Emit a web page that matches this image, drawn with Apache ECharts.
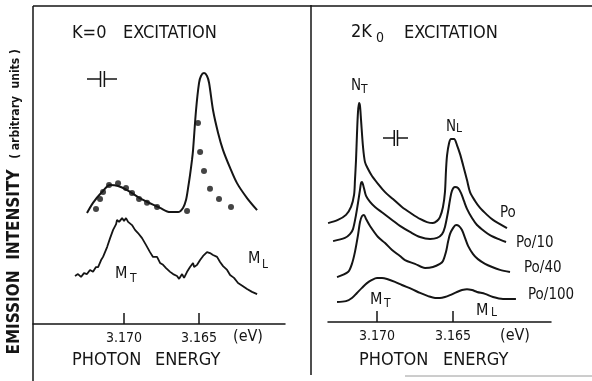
<!DOCTYPE html>
<html>
<head>
<meta charset="utf-8">
<script src="https://cdn.jsdelivr.net/npm/echarts@6/dist/echarts.min.js"></script>
<style>
  html, body { margin: 0; padding: 0; background: #fff; }
  #chart { width: 592px; height: 381px; }
</style>
</head>
<body>
<div id="chart"></div>
<script>
// tick positions shared by both panels (eV, axis runs high -> low)
const tickEnergies = [3.170, 3.165]

// K=0 excitation: smooth (calculated) curve
const fitEnergy = [3.17247, 3.17207, 3.17147, 3.17093, 3.17040, 3.16980, 3.16873, 3.16760, 3.16693, 3.16640,
  3.16607, 3.16587, 3.16573, 3.16560, 3.16547, 3.16540, 3.16520, 3.16500, 3.16487, 3.16467,
  3.16447, 3.16433, 3.16407, 3.16373, 3.16340, 3.16293, 3.16247, 3.16180, 3.16113]
const fitIntensity = [34.9, 38.1, 41.5, 43.7, 43.4, 42.1, 39.0, 36.5, 35.2, 35.2,
  36.5, 39.0, 42.8, 46.9, 51.6, 54.7, 67.3, 75.8, 78.0, 78.9,
  78.0, 75.8, 67.3, 60.1, 54.7, 49.1, 44.3, 39.6, 35.8]

// K=0 excitation: dots
const dotEnergy = [3.17187, 3.17160, 3.17140, 3.17100, 3.17040, 3.16987, 3.16947, 3.16900, 3.16847, 3.16780,
  3.16580, 3.16507, 3.16493, 3.16467, 3.16427, 3.16367, 3.16287]
const dotIntensity = [36.2, 39.3, 41.5, 43.7, 44.3, 42.8, 41.2, 39.3, 38.1, 36.8,
  35.5, 63.2, 54.1, 48.1, 42.5, 39.3, 36.8]

// K=0 excitation: measured (noisy) spectrum, M_T / M_L
const measEnergy = [3.17327, 3.17307, 3.17287, 3.17267, 3.17247, 3.17227, 3.17207, 3.17187, 3.17173, 3.17153,
  3.17140, 3.17113, 3.17093, 3.17073, 3.17053, 3.17047, 3.17033, 3.17013, 3.17000, 3.16987,
  3.16973, 3.16947, 3.16927, 3.16907, 3.16880, 3.16853, 3.16827, 3.16807, 3.16780, 3.16760,
  3.16740, 3.16720, 3.16693, 3.16673, 3.16647, 3.16633, 3.16613, 3.16600, 3.16580, 3.16560,
  3.16540, 3.16533, 3.16513, 3.16493, 3.16473, 3.16447, 3.16427, 3.16407, 3.16380, 3.16360,
  3.16340, 3.16313, 3.16293, 3.16267, 3.16240, 3.16207, 3.16180, 3.16147, 3.16113]
const measIntensity = [15.1, 15.7, 14.8, 16.0, 15.7, 17.0, 16.4, 17.9, 17.9, 20.1,
  21.1, 24.2, 27.0, 29.6, 31.4, 32.7, 32.1, 33.3, 32.4, 33.3,
  32.1, 31.1, 29.6, 28.6, 27.0, 24.8, 22.6, 21.1, 21.1, 19.2,
  18.6, 17.6, 16.4, 15.7, 15.1, 14.2, 15.7, 14.5, 16.4, 17.9,
  19.2, 17.9, 18.6, 20.1, 21.4, 22.6, 22.3, 21.7, 21.1, 19.5,
  18.2, 17.0, 15.4, 14.5, 12.9, 11.9, 11.0, 10.1, 9.4]

// 2K0 excitation, power Po
const p1Energy = [3.17322, 3.17257, 3.17204, 3.17171, 3.17151, 3.17145, 3.17138, 3.17132, 3.17125, 3.17118,
  3.17112, 3.17105, 3.17092, 3.17079, 3.17059, 3.17033, 3.16993, 3.16947, 3.16895, 3.16836,
  3.16770, 3.16717, 3.16671, 3.16632, 3.16605, 3.16586, 3.16566, 3.16553, 3.16546, 3.16539,
  3.16526, 3.16513, 3.16493, 3.16474, 3.16454, 3.16434, 3.16408, 3.16388, 3.16355, 3.16322,
  3.16276, 3.16237, 3.16191, 3.16145]
const p1Intensity = [31.3, 32.3, 33.9, 36.4, 40.2, 44.9, 51.3, 59.2, 66.5, 69.3,
  68.4, 63.9, 55.4, 50.6, 48.4, 46.2, 43.7, 41.1, 38.9, 36.4,
  34.2, 32.6, 31.6, 31.3, 32.0, 33.2, 36.4, 41.1, 48.1, 52.8,
  56.6, 57.9, 57.9, 56.0, 53.2, 49.7, 44.9, 41.1, 38.3, 36.1,
  33.9, 32.3, 31.0, 29.7]

// Po/10
const p10Energy = [3.17289, 3.17211, 3.17178, 3.17158, 3.17138, 3.17125, 3.17112, 3.17105, 3.17099, 3.17086,
  3.17072, 3.17046, 3.17013, 3.16961, 3.16901, 3.16849, 3.16783, 3.16717, 3.16651, 3.16605,
  3.16572, 3.16553, 3.16533, 3.16520, 3.16507, 3.16487, 3.16467, 3.16447, 3.16428, 3.16408,
  3.16375, 3.16342, 3.16296, 3.16257, 3.16204, 3.16151]
const p10Intensity = [25.6, 26.6, 27.8, 29.4, 33.9, 37.7, 41.8, 44.0, 44.3, 42.4,
  39.9, 38.0, 36.4, 34.5, 32.3, 30.4, 28.5, 26.9, 26.3, 26.6,
  27.8, 30.1, 34.8, 38.6, 41.5, 42.7, 42.4, 40.8, 38.3, 35.8,
  32.9, 30.7, 28.8, 27.5, 26.3, 25.3]

// Po/40
const p40Energy = [3.17263, 3.17191, 3.17165, 3.17145, 3.17125, 3.17112, 3.17099, 3.17086, 3.17072, 3.17046,
  3.16993, 3.16947, 3.16901, 3.16849, 3.16816, 3.16750, 3.16684, 3.16632, 3.16586, 3.16566,
  3.16546, 3.16533, 3.16520, 3.16500, 3.16480, 3.16461, 3.16441, 3.16421, 3.16401, 3.16368,
  3.16336, 3.16289, 3.16243, 3.16191, 3.16125]
const p40Intensity = [14.2, 15.8, 18.4, 22.2, 27.5, 31.6, 33.5, 33.9, 32.6, 30.4,
  26.9, 25.0, 22.8, 20.9, 19.6, 18.4, 17.1, 17.4, 18.4, 19.3,
  22.2, 25.3, 27.8, 29.7, 30.7, 30.4, 29.1, 26.6, 24.1, 21.5,
  19.9, 18.4, 17.4, 16.5, 15.8]

// Po/100
const p100Energy = [3.17263, 3.17204, 3.17165, 3.17132, 3.17099, 3.17066, 3.17033, 3.17000, 3.16967, 3.16934,
  3.16882, 3.16836, 3.16770, 3.16717, 3.16664, 3.16618, 3.16586, 3.16553, 3.16520, 3.16474,
  3.16441, 3.16408, 3.16375, 3.16342, 3.16289, 3.16237, 3.16171, 3.16086]
const p100Intensity = [6.3, 6.6, 7.6, 9.2, 10.8, 12.3, 13.3, 13.9, 13.9, 13.6,
  12.7, 11.7, 10.4, 9.2, 8.2, 7.6, 7.6, 7.9, 8.5, 9.5,
  10.1, 10.4, 10.1, 9.5, 8.9, 7.9, 7.3, 7.3]

const FONT = "'DejaVu Sans Condensed', 'DejaVu Sans', sans-serif"
const INK = '#151515'

const zip = (xs, ys) => xs.map((x, i) => [x, ys[i]])

// 文本元素
const txt = (x, y, text, size, extra = {}) => ({
  type: 'text',
  x, y,
  rotation: extra.rotation || 0,
  style: {
    text,
    fill: INK,
    font: `${extra.weight || 'normal'} ${size}px ${FONT}`,
    align: extra.align || 'left',
    verticalAlign: 'middle'
  },
  silent: true
})

const seg = (x1, y1, x2, y2, w = 1.5, color = INK) => ({
  type: 'line',
  shape: { x1, y1, x2, y2 },
  style: { stroke: color, lineWidth: w },
  silent: true
})

// "-||-" break mark
const breakMark = (x, y, w) => [
  seg(x, y, x + w * 0.45, y),
  seg(x + w * 0.45, y - 8, x + w * 0.45, y + 8),
  seg(x + w * 0.58, y - 8, x + w * 0.58, y + 8),
  seg(x + w * 0.58, y, x + w, y)
]

const xAxisBase = (gridIndex, min, max) => ({
  type: 'value',
  gridIndex,
  inverse: true,
  min, max,
  axisLine: { show: true, lineStyle: { color: INK, width: 1.5 } },
  axisTick: { show: true, inside: true, length: 11, customValues: tickEnergies, lineStyle: { color: INK, width: 1.5 } },
  axisLabel: {
    show: true,
    customValues: tickEnergies,
    formatter: v => v.toFixed(3),
    fontFamily: FONT,
    fontSize: 14,
    color: INK,
    margin: 7
  },
  splitLine: { show: false }
})

const yAxisBase = gridIndex => ({
  type: 'value',
  gridIndex,
  min: 0, max: 100,
  show: false
})

const lineSeries = (xi, data, smooth, width = 2) => ({
  type: 'line',
  xAxisIndex: xi,
  yAxisIndex: xi,
  data,
  smooth,
  symbol: 'none',
  lineStyle: { color: INK, width },
  silent: true
})

const chart = echarts.init(document.getElementById('chart'))

chart.setOption({
  animation: false,
  backgroundColor: '#fff',
  grid: [
    { left: 33, top: 6, width: 252, height: 318 },
    { left: 328, top: 6, width: 223, height: 316 }
  ],
  xAxis: [
    xAxisBase(0, 3.15927, 3.17607),
    xAxisBase(1, 3.158553, 3.173224)
  ],
  yAxis: [yAxisBase(0), yAxisBase(1)],
  series: [
    lineSeries(0, zip(fitEnergy, fitIntensity), 0.3),
    {
      type: 'scatter',
      xAxisIndex: 0,
      yAxisIndex: 0,
      data: zip(dotEnergy, dotIntensity),
      symbolSize: 6,
      itemStyle: { color: INK },
      silent: true
    },
    lineSeries(0, zip(measEnergy, measIntensity), false, 1.8),
    lineSeries(1, zip(p1Energy, p1Intensity), 0.3),
    lineSeries(1, zip(p10Energy, p10Intensity), 0.3),
    lineSeries(1, zip(p40Energy, p40Intensity), 0.3),
    lineSeries(1, zip(p100Energy, p100Intensity), 0.3)
  ],
  graphic: {
    elements: [
      // frame
      seg(33, 6, 592, 6),
      seg(33, 6, 33, 381),
      seg(311, 5, 311, 375),
      seg(405, 376, 592, 376, 1, '#9a9a9a'),
      // titles
      txt(72, 33, 'K=0', 18),
      txt(123, 33, 'EXCITATION', 18),
      txt(351, 32, '2K', 18),
      txt(376, 38, '0', 14),
      txt(404, 33, 'EXCITATION', 18),
      // x axis names
      txt(72, 360, 'PHOTON', 18),
      txt(155, 360, 'ENERGY', 18),
      txt(359, 360, 'PHOTON', 18),
      txt(443, 360, 'ENERGY', 18),
      txt(248, 337, '(eV)', 16, { align: 'center' }),
      txt(515, 336, '(eV)', 16, { align: 'center' }),
      // y axis name
      txt(15, 262, 'EMISSION  INTENSITY', 17, { align: 'center', rotation: Math.PI / 2, weight: 'bold' }),
      txt(16, 104, '( arbitrary  units )', 12, { align: 'center', rotation: Math.PI / 2, weight: 'bold' }),
      // peak labels, left
      txt(115, 274, 'M', 16),
      txt(130, 279, 'T', 12),
      txt(248, 259, 'M', 16),
      txt(262, 265, 'L', 12),
      // peak labels, right
      txt(351, 86, 'N', 15),
      txt(361, 90, 'T', 12),
      txt(446, 127, 'N', 15),
      txt(456, 129, 'L', 12),
      txt(370, 300, 'M', 16),
      txt(384, 304, 'T', 12),
      txt(476, 311, 'M', 16),
      txt(491, 313, 'L', 12),
      // power labels
      txt(500, 213, 'Po', 15),
      txt(516, 243, 'Po/10', 15),
      txt(524, 268, 'Po/40', 15),
      txt(528, 295, 'Po/100', 15),
      // break marks
      ...breakMark(87, 79, 30),
      ...breakMark(383, 138, 25)
    ]
  }
})
</script>
</body>
</html>
